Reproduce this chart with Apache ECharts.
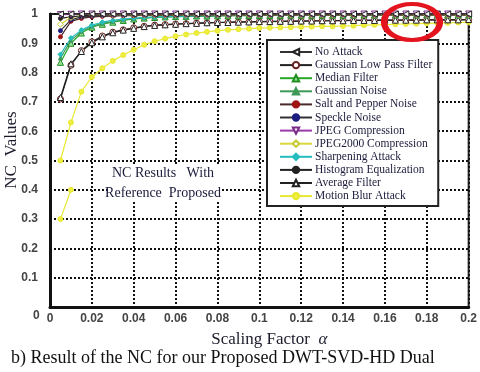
<!DOCTYPE html>
<html><head><meta charset="utf-8">
<script src="https://cdn.jsdelivr.net/npm/echarts@6/dist/echarts.min.js"></script>
<style>html,body{margin:0;padding:0;background:#fff}#c{width:480px;height:372px}</style>
</head><body><div id="c"></div>
<script>
const alpha = [0.005,0.01,0.015,0.02,0.025,0.03,0.035,0.04,0.045,0.05,0.055,0.06,0.065,0.07,0.075,0.08,0.085,0.09,0.095,0.1,0.105,0.11,0.115,0.12,0.125,0.13,0.135,0.14,0.145,0.15,0.155,0.16,0.165,0.17,0.175,0.18,0.185,0.19,0.195,0.2];
const seriesNames = ['No Attack','Gaussian Low Pass Filter','Median Filter','Gaussian Noise','Salt and Pepper Noise','Speckle Noise','JPEG Compression','JPEG2000 Compression','Sharpening Attack','Histogram Equalization','Average Filter','Motion Blur Attack'];
const noAttack = [1,1,1,1,1,1,1,1,1,1,1,1,1,1,1,1,1,1,1,1,1,1,1,1,1,1,1,1,1,1,1,1,1,1,1,1,1,1,1,1];
const gaussLPF = [0.71,0.825,0.875,0.905,0.925,0.938,0.946,0.953,0.958,0.962,0.964,0.966,0.967,0.969,0.970,0.971,0.972,0.973,0.973,0.974,0.975,0.975,0.976,0.976,0.977,0.977,0.977,0.978,0.978,0.978,0.979,0.979,0.979,0.979,0.980,0.980,0.980,0.980,0.981,0.981];
const medianFilter = [0.835,0.9,0.935,0.955,0.965,0.972,0.978,0.983,0.986,0.988,0.99,0.991,0.992,0.993,0.993,0.994,0.994,0.994,0.995,0.995,0.995,0.995,0.996,0.996,0.996,0.996,0.996,0.996,0.997,0.997,0.997,0.997,0.997,0.997,0.997,0.997,0.997,0.997,0.997,0.997];
const gaussNoise = [0.85,0.91,0.94,0.958,0.968,0.975,0.98,0.984,0.987,0.989,0.99,0.991,0.992,0.992,0.993,0.993,0.994,0.994,0.994,0.995,0.995,0.995,0.995,0.995,0.996,0.996,0.996,0.996,0.996,0.996,0.996,0.996,0.996,0.996,0.996,0.996,0.996,0.996,0.996,0.996];
const saltPepper = [0.922,0.975,0.985,0.99,0.992,0.993,0.994,0.994,0.995,0.995,0.995,0.995,0.996,0.996,0.996,0.996,0.996,0.996,0.996,0.996,0.996,0.996,0.996,0.996,0.996,0.996,0.996,0.996,0.996,0.996,0.996,0.996,0.996,0.996,0.996,0.996,0.996,0.996,0.996,0.996];
const speckle = [0.943,0.98,0.99,0.993,0.995,0.996,0.996,0.997,0.997,0.997,0.997,0.997,0.997,0.997,0.997,0.997,0.997,0.997,0.997,0.997,0.997,0.997,0.997,0.997,0.997,0.997,0.997,0.997,0.997,0.997,0.997,0.997,0.997,0.997,0.997,0.997,0.997,0.997,0.997,0.997];
const jpeg = [0.998,0.999,1,1,1,1,1,1,1,1,1,1,1,1,1,1,1,1,1,1,1,1,1,1,1,1,1,1,1,1,1,1,1,1,1,1,1,1,1,1];
const jpeg2000 = [0.965,0.988,0.995,0.997,0.998,0.998,0.998,0.998,0.998,0.998,0.998,0.998,0.998,0.998,0.998,0.998,0.998,0.998,0.998,0.998,0.998,0.998,0.998,0.998,0.998,0.998,0.998,0.998,0.998,0.998,0.998,0.998,0.998,0.998,0.998,0.998,0.998,0.998,0.998,0.998];
const sharpening = [0.862,0.918,0.945,0.962,0.972,0.978,0.983,0.986,0.988,0.99,0.991,0.992,0.993,0.994,0.994,0.995,0.995,0.995,0.996,0.996,0.996,0.996,0.996,0.996,0.996,0.997,0.997,0.997,0.997,0.997,0.997,0.997,0.997,0.997,0.997,0.997,0.997,0.997,0.997,0.997];
const histEq = [0.985,0.99,0.994,0.996,0.997,0.998,0.998,0.998,0.999,0.999,0.999,0.999,0.999,0.999,0.999,0.999,0.999,0.999,0.999,0.999,0.999,0.999,0.999,0.999,0.999,0.999,0.999,0.999,0.999,0.999,0.999,0.999,0.999,0.999,0.999,0.999,0.999,0.999,0.999,0.999];
const averageFilter = [0.715,0.83,0.872,0.902,0.922,0.936,0.945,0.951,0.957,0.961,0.963,0.965,0.967,0.968,0.970,0.971,0.971,0.972,0.973,0.974,0.974,0.975,0.975,0.976,0.976,0.977,0.977,0.977,0.978,0.978,0.978,0.979,0.979,0.979,0.979,0.980,0.980,0.980,0.980,0.981];
const motionBlurStartX = [0.005,0.01];
const motionBlurStart = [0.3,0.4];
const motionBlur = [0.5,0.63,0.735,0.785,0.815,0.84,0.86,0.878,0.895,0.907,0.916,0.924,0.93,0.935,0.939,0.943,0.946,0.948,0.95,0.952,0.953,0.954,0.955,0.956,0.957,0.958,0.958,0.959,0.96,0.962,0.963,0.964,0.965,0.966,0.967,0.968,0.969,0.97,0.971,0.972];
const xTicks = {min:0,max:0.2,interval:0.02};
const yTicks = {min:0,max:1,interval:0.1};

const pairs = ys => alpha.map((x,i)=>[x,ys[i]]);
const mk = (name, ys, o) => Object.assign({
  name, type:'line', data: Array.isArray(ys[0]) || ys[0]==='-' ? ys : pairs(ys),
  symbolSize:5, animation:false, lineStyle:{width:1.2, color:o.line}, itemStyle:{color:o.fill||o.line, borderColor:o.border||o.line, borderWidth:1}
}, o.extra||{});

const mbData = motionBlurStartX.map((x,i)=>[x,motionBlurStart[i]]).concat(['-']).concat(pairs(motionBlur));

const series = [
  mk('Motion Blur Attack', mbData, {line:'#e8e830', fill:'#eeee40', extra:{symbol:'circle', symbolSize:5, connectNulls:false}}),
  mk('Gaussian Low Pass Filter', gaussLPF, {line:'#222', fill:'#fff', border:'#6b1f1f', extra:{symbol:'circle', symbolSize:6}}),
  mk('Average Filter', averageFilter, {line:'#222', fill:'#fff', border:'#222', extra:{symbol:'triangle', symbolSize:6}}),
  mk('Median Filter', medianFilter, {line:'#2aa82a', fill:'#9be09b', border:'#1f8f1f', extra:{symbol:'triangle', symbolSize:6}}),
  mk('Gaussian Noise', gaussNoise, {line:'#3f9a5a', extra:{symbol:'triangle', symbolSize:4}}),
  mk('Sharpening Attack', sharpening, {line:'#26bcbc', fill:'#26bcbc', extra:{symbol:'diamond', symbolSize:5}}),
  mk('Salt and Pepper Noise', saltPepper, {line:'#4a2a2a', fill:'#a01515', border:'#a01515', extra:{symbol:'circle', symbolSize:4}}),
  mk('Speckle Noise', speckle, {line:'#333', fill:'#1c1c80', border:'#1c1c80', extra:{symbol:'circle', symbolSize:4}}),
  mk('JPEG2000 Compression', jpeg2000, {line:'#d8d83a', fill:'#fff', border:'#c8c830', extra:{symbol:'diamond', symbolSize:6}}),
  mk('Histogram Equalization', histEq, {line:'#222', extra:{symbol:'circle', symbolSize:4}}),
  mk('JPEG Compression', jpeg, {line:'#9a3aa8', fill:'#fff', border:'#7a2a88', extra:{symbol:'triangle', symbolRotate:180, symbolSize:6}}),
  mk('No Attack', noAttack, {line:'#333', fill:'#fff', border:'#222', extra:{symbol:'triangle', symbolRotate:90, symbolSize:6}})
];

const serif = '"Liberation Serif","DejaVu Serif",serif';
const chart = echarts.init(document.getElementById('c'), null, {renderer:'canvas'});
chart.setOption({
  backgroundColor:'#fff',
  animation:false,
  grid:{left:50, right:10, top:14, bottom:65, show:true, borderColor:'#222', borderWidth:2},
  xAxis:{type:'value', min:xTicks.min, max:xTicks.max, interval:xTicks.interval,
    axisLine:{show:true, onZero:false, lineStyle:{color:'#111', width:3}},
    axisTick:{show:false},
    axisLabel:{color:'#444', fontFamily:'"Liberation Sans",Arial,sans-serif', fontWeight:'bold', fontSize:12, margin:6},
    splitLine:{show:true, lineStyle:{color:'#111', width:2, type:[2,2]}},
    name:'Scaling Factor  {a|α}', nameLocation:'middle', nameGap:24,
    nameTextStyle:{fontFamily:serif, fontSize:17, color:'#1b1b2b', padding:[0,0,0,20], rich:{a:{fontFamily:serif, fontStyle:'italic', fontSize:17, color:'#1b1b2b'}}}
  },
  yAxis:{type:'value', min:yTicks.min, max:yTicks.max, interval:yTicks.interval,
    axisLine:{show:true, onZero:false, lineStyle:{color:'#111', width:3}},
    axisTick:{show:false},
    axisLabel:{color:'#444', fontFamily:'"Liberation Sans",Arial,sans-serif', fontWeight:'bold', fontSize:12, margin:12, showMinLabel:false},
    splitLine:{show:true, lineStyle:{color:'#111', width:2, type:[2,2]}}
  },
  legend:{data:seriesNames, orient:'vertical', left:267, top:40, backgroundColor:'#fff',
    borderColor:'#222', borderWidth:2, padding:[6,6,4,12], itemWidth:32, itemHeight:8, itemGap:1.1,
    textStyle:{fontFamily:serif, fontSize:11.5, lineHeight:12, color:'#1b1b3b', padding:[0,0,0,-2]}},
  graphic:[
    {type:'text', left:33, top:310, style:{text:'0', fill:'#444', font:'bold 12px "Liberation Sans",Arial,sans-serif'}},
    {type:'text', x:12, y:150, rotation:Math.PI/2, style:{text:'NC  Values', fill:'#1b1b2b', font:'17px '+serif, align:'center', verticalAlign:'middle'}},
    {type:'rect', z:50, shape:{x:108, y:164, width:112, height:38}, style:{fill:'#fff'}},
    {type:'text', z:51, x:163, y:173, style:{text:'NC Results   With', fill:'#1b1b3b', font:'14px '+serif, align:'center', verticalAlign:'middle'}},
    {type:'text', z:51, x:163, y:193, style:{text:'Reference  Proposed', fill:'#1b1b3b', font:'14px '+serif, align:'center', verticalAlign:'middle'}},
    {type:'text', x:11, y:358, style:{text:'b) Result of the NC for our Proposed DWT-SVD-HD Dual', fill:'#111', font:'18px '+serif, verticalAlign:'middle'}},
    {type:'circle', x:412, y:22, scaleX:1.55, scaleY:1, z:100, shape:{cx:0, cy:0, r:18}, style:{fill:'none', stroke:'#e3141e', lineWidth:4.2}}
  ],
  series
});
</script></body></html>
